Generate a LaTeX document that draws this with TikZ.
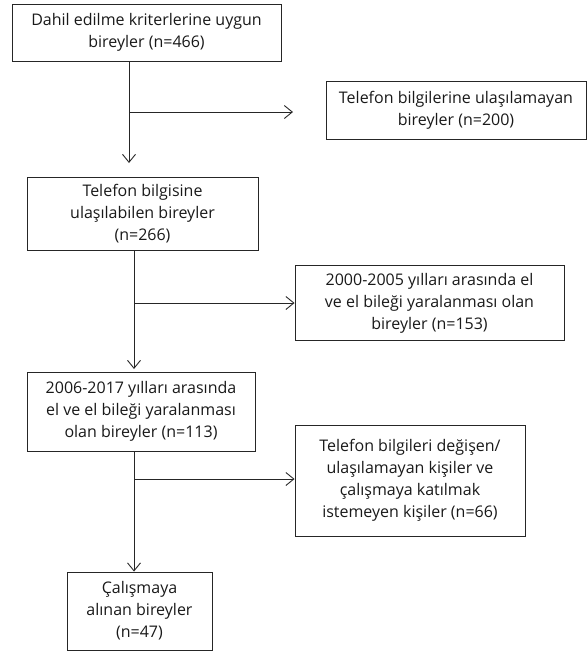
\documentclass[tikz,border=0pt]{standalone}
\usepackage{fontspec}
\setmainfont{Open Sans}
\usetikzlibrary{arrows.meta}
\begin{document}
\begin{tikzpicture}[x=1pt,y=-1pt,
        kutu/.style={draw=black!85,line width=0.9pt,align=center,inner sep=0pt,
            font=\fontsize{16}{22}\selectfont,text=black!90},
        ok/.style={draw=black!85,line width=0.9pt,-{Straight Barb[length=8pt,width=13pt,line width=0.9pt]}}]
        \useasboundingbox (0,0) rectangle (588,651);

        \node[kutu,minimum width=269,minimum height=57] (b1) at (146.5,32.5) {Dahil edilme kriterlerine uygun\\bireyler (n=466)};
        \node[kutu,minimum width=260,minimum height=58] (b2) at (456,110) {Telefon bilgilerine ulaşılamayan\\bireyler (n=200)};
        \node[kutu,minimum width=231,minimum height=73] (b3) at (142.5,213.5) {Telefon bilgisine\\ulaşılabilen bireyler\\(n=266)};
        \node[kutu,minimum width=269,minimum height=75] (b4) at (429.5,303) {2000-2005 yılları arasında el\\ve el bileği yaralanması olan\\bireyler (n=153)};
        \node[kutu,minimum width=228,minimum height=79] (b5) at (141,411.5) {2006-2017 yılları arasında\\el ve el bileği yaralanması\\olan bireyler (n=113)};
        \node[kutu,minimum width=230,minimum height=111] (b6) at (410,480.5) {Telefon bilgileri değişen/\\ulaşılamayan kişiler ve\\çalışmaya katılmak\\istemeyen kişiler (n=66)};
        \node[kutu,minimum width=145,minimum height=78] (b7) at (139.5,611) {Çalışmaya\\alınan bireyler\\(n=47)};

        \coordinate (e1) at (129,163);
        \coordinate (j1) at (129,112);
        \coordinate (r1) at (293,112);
        \draw[ok] (b1.south -| e1) -- (e1);
        \draw[ok] (j1) -- (r1);

        \coordinate (e2) at (134,369);
        \coordinate (j2) at (134,303);
        \draw[ok] (b3.south -| e2) -- (e2);
        \draw[ok] (j2) -- (b4.west);

        \coordinate (j3) at (134,479);
        \draw[ok] (b5.south -| j3) -- (b7.north -| j3);
        \draw[ok] (j3) -- (j3 -| b6.west);
    \end{tikzpicture}
\end{document}
